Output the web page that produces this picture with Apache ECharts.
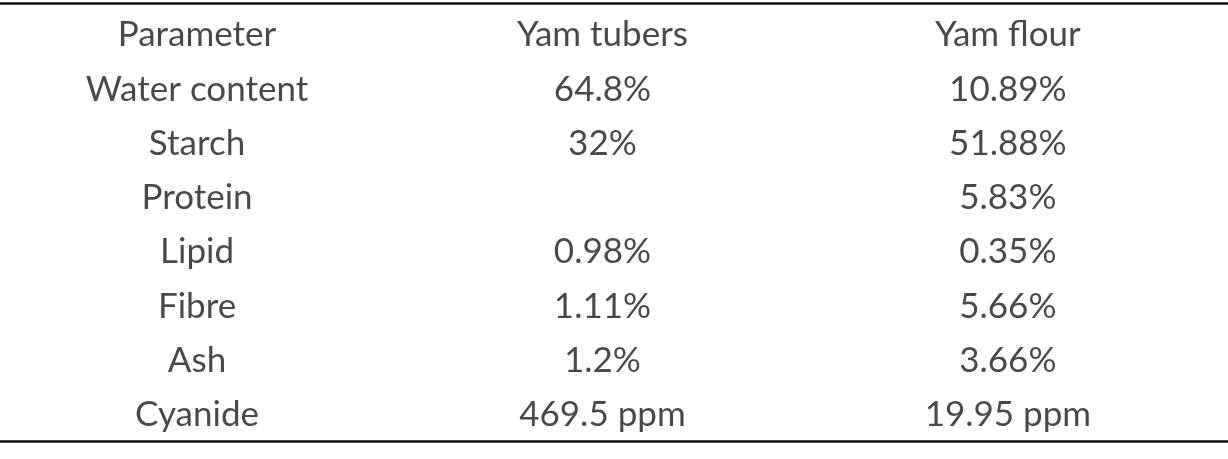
<!DOCTYPE html>
<html><head><meta charset="utf-8">
<script src="https://cdn.jsdelivr.net/npm/echarts@6/dist/echarts.min.js"></script>
<style>html,body{margin:0;background:#fff}#c{width:1228px;height:459px}</style>
</head><body><div id="c"></div>
<script>
var headers = ['Parameter', 'Yam tubers', 'Yam flour'];
var parameters = ['Water content', 'Starch', 'Protein', 'Lipid', 'Fibre', 'Ash', 'Cyanide'];
var tubers = ['64.8%', '32%', '', '0.98%', '1.11%', '1.2%', '469.5 ppm'];
var flour = ['10.89%', '51.88%', '5.83%', '0.35%', '5.66%', '3.66%', '19.95 ppm'];

var cells = [];
headers.forEach(function (h, c) { cells.push([c, 0, h]); });
parameters.forEach(function (p, r) {
  cells.push([0, r + 1, p]);
  cells.push([1, r + 1, tubers[r]]);
  cells.push([2, r + 1, flour[r]]);
});

var chart = echarts.init(document.getElementById('c'));
var axisHidden = { show: false };
chart.setOption({
  animation: false,
  grid: { left: 0, right: 0, top: 3, bottom: 18 },
  xAxis: [
    { type: 'value', min: -0.486, max: 2.543, position: 'bottom',
      axisLine: { show: true, onZero: false, lineStyle: { color: '#111', width: 2.5 } },
      axisTick: axisHidden, axisLabel: axisHidden, splitLine: axisHidden },
    { type: 'value', min: -0.486, max: 2.543, position: 'top',
      axisLine: { show: true, onZero: false, lineStyle: { color: '#111', width: 2.5 } },
      axisTick: axisHidden, axisLabel: axisHidden, splitLine: axisHidden }
  ],
  yAxis: { type: 'value', inverse: true, min: -0.589, max: 7.477,
    axisLine: axisHidden, axisTick: axisHidden, axisLabel: axisHidden, splitLine: axisHidden },
  series: [{
    type: 'scatter', symbolSize: 0, data: cells,
    label: { show: true, position: 'inside', color: '#1a1a1a',
      fontFamily: 'Lato', fontSize: 35,
      formatter: function (p) { return p.data[2]; } }
  }]
});
</script></body></html>
